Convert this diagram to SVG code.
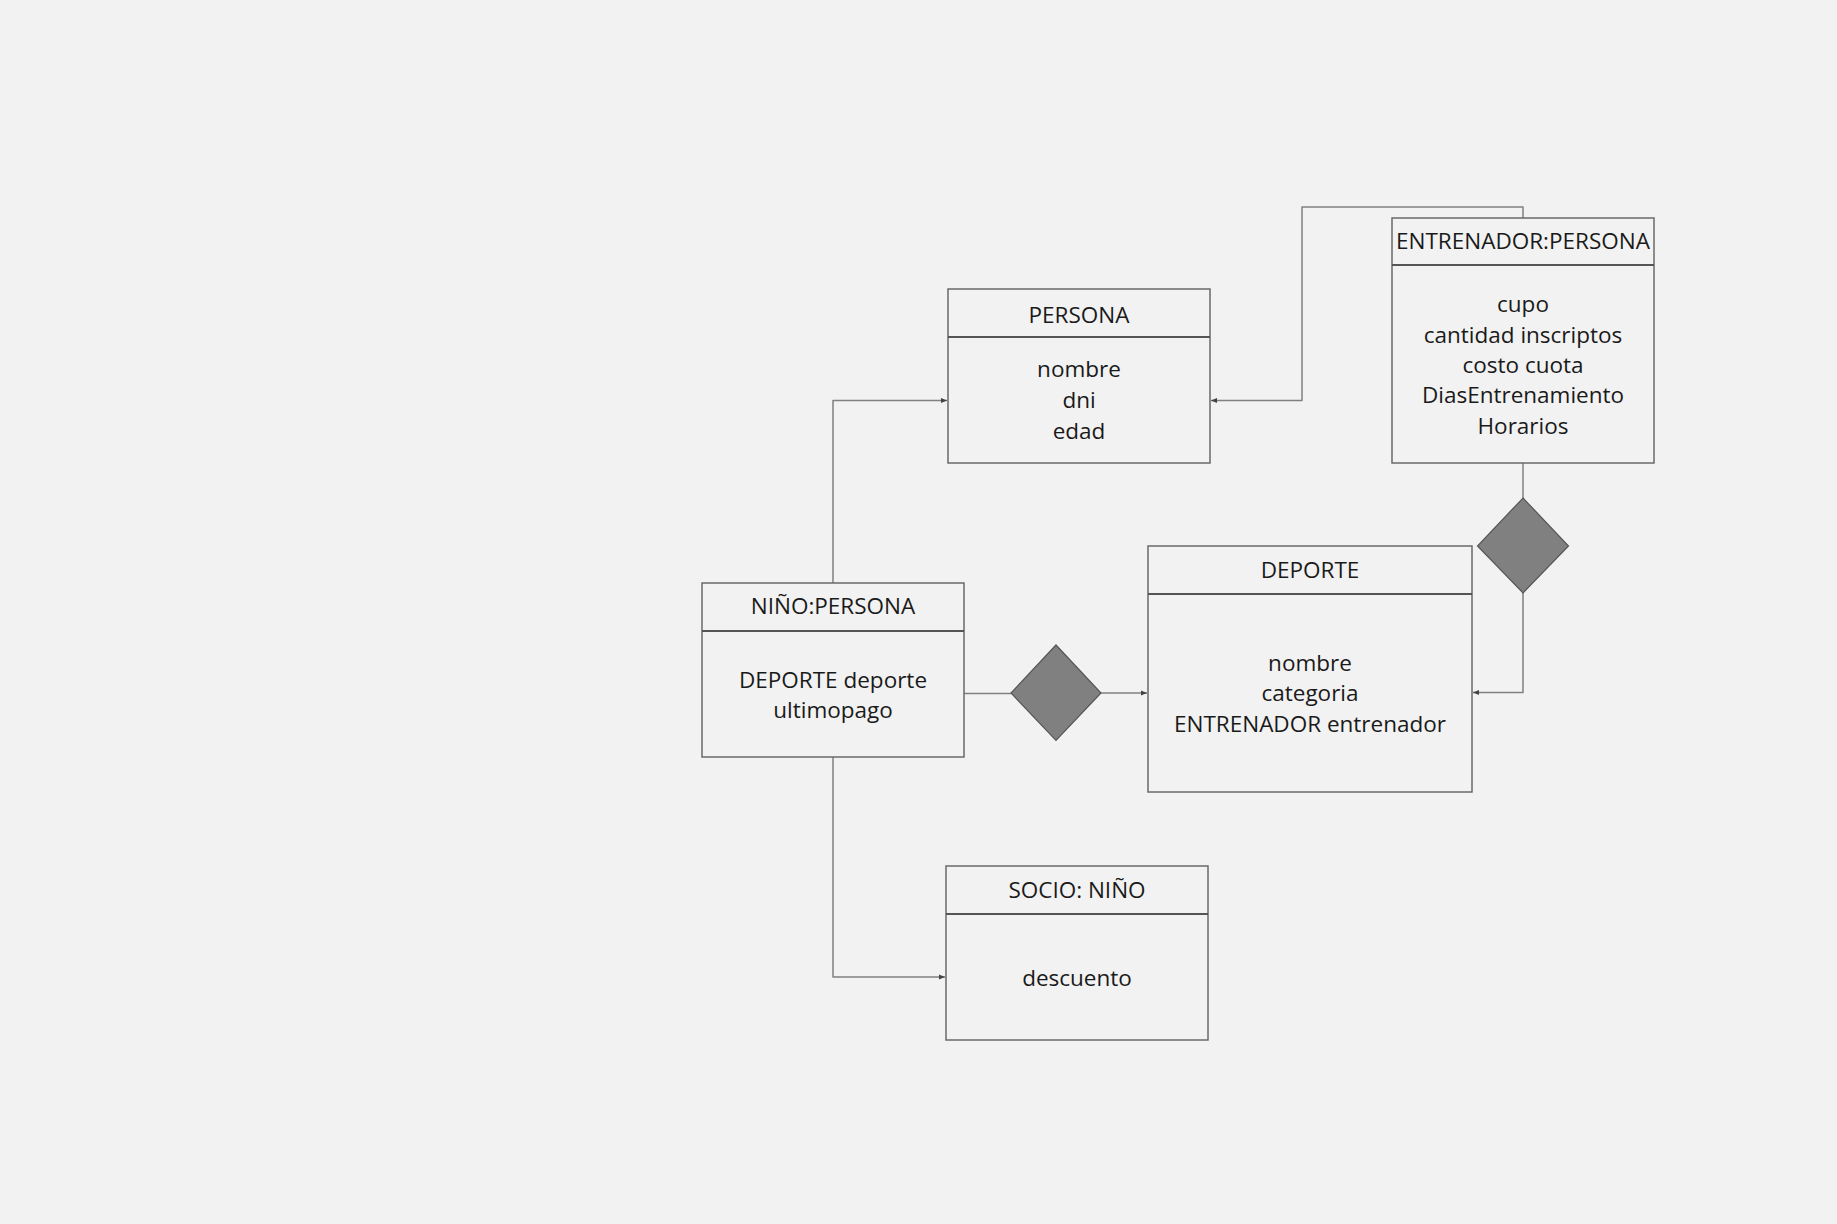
<svg xmlns="http://www.w3.org/2000/svg" width="1837" height="1224" viewBox="0 0 1837 1224">
  <style>
    .box { fill: #f2f2f2; stroke: #6a6a6a; stroke-width: 1.5; }
    .div { stroke: #555; stroke-width: 1.8; }
    .title, .attr { font-family: "Open Sans", "Noto Sans", sans-serif; font-size: 22.5px; fill: #1a1a1a; text-anchor: middle; }
    .link { fill: none; stroke: #808080; stroke-width: 1.5; stroke-linejoin: round; }
    .agg { fill: #808080; stroke: #555; stroke-width: 1.2; }
  </style>
  <defs>
    <marker id="arrow" viewBox="0 0 6 6" refX="6" refY="3" markerWidth="6" markerHeight="6" markerUnits="userSpaceOnUse" orient="auto">
      <path d="M0,0.5 L6,3 L0,5.5 Z" fill="#444"/>
    </marker>
  </defs>

  <rect width="1837" height="1224" fill="#f2f2f2"/>

  <!-- connectors -->
  <g id="connectors">
    <!-- NIÑO -> PERSONA (inheritance) -->
    <path class="link" d="M833,583 V400.5 H947" marker-end="url(#arrow)"/>
    <!-- ENTRENADOR -> PERSONA (inheritance) -->
    <path class="link" d="M1523,218 V207 H1302 V400.5 H1211" marker-end="url(#arrow)"/>
    <!-- NIÑO -> SOCIO -->
    <path class="link" d="M833,757 V977 H945" marker-end="url(#arrow)"/>
    <!-- NIÑO aggregation to DEPORTE -->
    <path class="link" d="M964,693.5 H1011"/>
    <path class="link" d="M1101,693 H1147" marker-end="url(#arrow)"/>
    <!-- ENTRENADOR aggregation to DEPORTE -->
    <path class="link" d="M1523,463 V498"/>
    <path class="link" d="M1523,593 V692.5 H1473" marker-end="url(#arrow)"/>
    <!-- aggregation diamonds -->
    <polygon class="agg" points="1056,645 1101,693 1056,740.5 1011,693"/>
    <polygon class="agg" points="1523,498 1568.5,546 1523,593 1477.5,546"/>
  </g>

  <g id="persona">
    <rect class="box" x="948" y="289" width="262" height="174"/>
    <line class="div" x1="948" y1="337" x2="1210" y2="337"/>
    <text class="title" x="1079" y="322.5">PERSONA</text>
    <text class="attr" x="1079" y="377">nombre</text>
    <text class="attr" x="1079" y="408">dni</text>
    <text class="attr" x="1079" y="439">edad</text>
  </g>

  <g id="entrenador">
    <rect class="box" x="1392" y="218" width="262" height="245"/>
    <line class="div" x1="1392" y1="265" x2="1654" y2="265"/>
    <text class="title" x="1523" y="249">ENTRENADOR:PERSONA</text>
    <text class="attr" x="1523" y="312">cupo</text>
    <text class="attr" x="1523" y="343">cantidad inscriptos</text>
    <text class="attr" x="1523" y="373">costo cuota</text>
    <text class="attr" x="1523" y="403">DiasEntrenamiento</text>
    <text class="attr" x="1523" y="434">Horarios</text>
  </g>

  <g id="nino">
    <rect class="box" x="702" y="583" width="262" height="174"/>
    <line class="div" x1="702" y1="631" x2="964" y2="631"/>
    <text class="title" x="833" y="614">NIÑO:PERSONA</text>
    <text class="attr" x="833" y="688">DEPORTE deporte</text>
    <text class="attr" x="833" y="718">ultimopago</text>
  </g>

  <g id="deporte">
    <rect class="box" x="1148" y="546" width="324" height="246"/>
    <line class="div" x1="1148" y1="594" x2="1472" y2="594"/>
    <text class="title" x="1310" y="578">DEPORTE</text>
    <text class="attr" x="1310" y="671">nombre</text>
    <text class="attr" x="1310" y="701">categoria</text>
    <text class="attr" x="1310" y="732">ENTRENADOR entrenador</text>
  </g>

  <g id="socio">
    <rect class="box" x="946" y="866" width="262" height="174"/>
    <line class="div" x1="946" y1="914" x2="1208" y2="914"/>
    <text class="title" x="1077" y="898">SOCIO: NIÑO</text>
    <text class="attr" x="1077" y="986">descuento</text>
  </g>
</svg>
